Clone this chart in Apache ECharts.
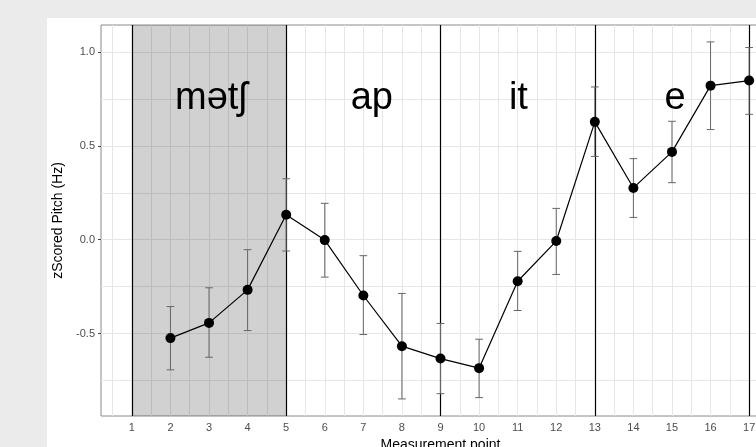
<!DOCTYPE html>
<html>
<head>
<meta charset="utf-8">
<script src="https://cdn.jsdelivr.net/npm/echarts@6/dist/echarts.min.js"></script>
<style>
html,body{margin:0;padding:0;background:#ebebeb;width:756px;height:447px;overflow:hidden;}
#c{position:absolute;left:47px;top:18px;width:709px;height:429px;background:#ffffff;}
</style>
</head>
<body>
<div id="c"></div>
<script>
// Measurement points and z-scored pitch means
const points = [2, 3, 4, 5, 6, 7, 8, 9, 10, 11, 12, 13, 14, 15, 16, 17];
const pitch = [-0.524, -0.443, -0.267, 0.133, -0.002, -0.297, -0.567, -0.633, -0.684, -0.221, -0.007, 0.628, 0.276, 0.468, 0.821, 0.848];
const errLow = [-0.693, -0.626, -0.484, -0.060, -0.199, -0.505, -0.848, -0.820, -0.841, -0.377, -0.185, 0.444, 0.119, 0.304, 0.587, 0.668];
const errHigh = [-0.356, -0.256, -0.053, 0.325, 0.194, -0.085, -0.286, -0.446, -0.530, -0.062, 0.167, 0.814, 0.432, 0.631, 1.054, 1.024];

// segment annotations
const segLabels = ['mətʃ', 'ap', 'it', 'e'];
const segX = [3.05, 7.22, 11.02, 15.08];
const segY = [0.75, 0.75, 0.75, 0.75];
const boundaries = [1, 5, 9, 13, 17];
const shadeFrom = 1, shadeTo = 5;

// axis ticks
const xTicks = [1, 2, 3, 4, 5, 6, 7, 8, 9, 10, 11, 12, 13, 14, 15, 16, 17];
const yTicks = [-0.5, 0, 0.5, 1.0];
const xGrid = [0.5, 1, 1.5, 2, 2.5, 3, 3.5, 4, 4.5, 5, 5.5, 6, 6.5, 7, 7.5, 8, 8.5, 9, 9.5, 10, 10.5, 11, 11.5, 12, 12.5, 13, 13.5, 14, 14.5, 15, 15.5, 16, 16.5, 17, 17.5];
const yGrid = [-0.75, -0.5, -0.25, 0, 0.25, 0.5, 0.75, 1.0];
const xMin = 0.2, xMax = 17.8, yMin = -0.939, yMax = 1.144;

const chart = echarts.init(document.getElementById('c'), null, {renderer: 'canvas'});
const FONT = 'Liberation Sans, Arial, Helvetica, sans-serif';

const gridLineData = [];
xGrid.forEach(v => gridLineData.push({xAxis: v}));
yGrid.forEach(v => gridLineData.push({yAxis: v}));

const option = {
  animation: false,
  backgroundColor: '#ffffff',
  grid: {left: 54, top: 7, width: 679, bottom: 31, show: true, borderColor: '#8a8a8a', borderWidth: 1,
    backgroundColor: 'transparent', outerBoundsMode: 'none', containLabel: false},
  xAxis: {
    type: 'value', min: xMin, max: xMax,
    name: 'Measurement point', nameLocation: 'middle', nameGap: 21,
    nameTextStyle: {color: '#000', fontSize: 14, fontFamily: FONT},
    axisLine: {show: false},
    axisTick: {show: true, customValues: xTicks, length: 3, lineStyle: {color: '#444'}},
    axisLabel: {customValues: xTicks, color: '#4d4d4d', fontSize: 11, fontFamily: FONT, margin: 6},
    splitLine: {show: false}
  },
  yAxis: {
    type: 'value', min: yMin, max: yMax,
    name: 'zScored Pitch (Hz)', nameLocation: 'middle', nameGap: 33, nameRotate: 90,
    nameTextStyle: {color: '#000', fontSize: 14, fontFamily: FONT},
    axisLine: {show: false},
    axisTick: {show: true, customValues: yTicks, length: 3, lineStyle: {color: '#444'}},
    axisLabel: {customValues: yTicks, color: '#4d4d4d', fontSize: 11, fontFamily: FONT, margin: 6,
      formatter: v => v.toFixed(1)},
    splitLine: {show: false}
  },
  series: [
    {
      type: 'line', data: [], silent: true, z: 1,
      markLine: {silent: true, symbol: 'none', z: 1, label: {show: false},
        lineStyle: {color: '#e6e6e6', width: 1, type: 'solid'}, data: gridLineData}
    },
    {
      type: 'line', data: [], silent: true, z: 2,
      markArea: {silent: true, z: 2, itemStyle: {color: 'rgba(0,0,0,0.18)'},
        data: [[{xAxis: shadeFrom}, {xAxis: shadeTo}]]}
    },
    {
      type: 'line', data: [], silent: true, z: 3,
      markLine: {silent: true, symbol: 'none', z: 3, label: {show: false},
        lineStyle: {color: '#000', width: 1.2, type: 'solid'},
        data: boundaries.map(v => ({xAxis: v}))}
    },
    {
      type: 'custom', z: 4, silent: true,
      data: points.map((p, i) => [p, errLow[i], errHigh[i]]),
      renderItem: function (params, api) {
        const x = api.value(0), lo = api.value(1), hi = api.value(2);
        const w = 0.1;
        const pTop = api.coord([x, hi]);
        const pBot = api.coord([x, lo]);
        const tl = api.coord([x - w, hi]), tr = api.coord([x + w, hi]);
        const bl = api.coord([x - w, lo]), br = api.coord([x + w, lo]);
        const st = {stroke: '#666666', lineWidth: 1};
        return {type: 'group', children: [
          {type: 'line', shape: {x1: pTop[0], y1: pTop[1], x2: pBot[0], y2: pBot[1]}, style: st},
          {type: 'line', shape: {x1: tl[0], y1: tl[1], x2: tr[0], y2: tr[1]}, style: st},
          {type: 'line', shape: {x1: bl[0], y1: bl[1], x2: br[0], y2: br[1]}, style: st}
        ]};
      }
    },
    {
      type: 'line', z: 5,
      data: points.map((p, i) => [p, pitch[i]]),
      symbol: 'circle', symbolSize: 10,
      itemStyle: {color: '#000'},
      lineStyle: {color: '#000', width: 1.2}
    },
    {
      type: 'scatter', z: 6, symbolSize: 0,
      itemStyle: {opacity: 1},
      data: segLabels.map((s, i) => ({name: s, value: [segX[i], segY[i]]})),
      label: {show: true, position: 'inside', formatter: p => p.name, opacity: 1,
        color: '#000', fontSize: 38, fontFamily: FONT}
    }
  ]
};
chart.setOption(option);
</script>
</body>
</html>
